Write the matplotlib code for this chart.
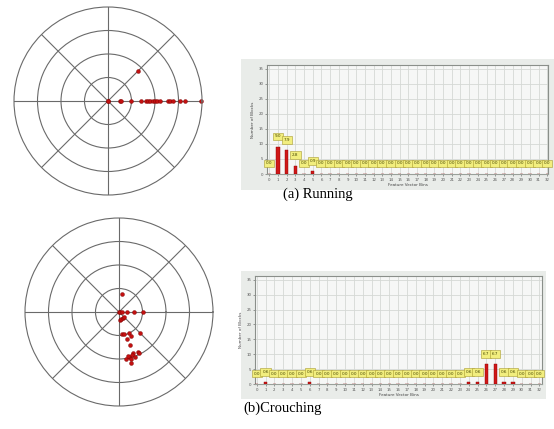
import numpy as np
import matplotlib.pyplot as plt
from matplotlib.patches import Rectangle

# polar plots (r in ring units, theta in degrees)
run_r = [0, 0, 0.52, 0.54, 0.99, 1.42, 1.63, 1.70, 1.80, 1.90, 2.01, 2.10, 2.20,
         2.55, 2.65, 2.77, 3.05, 3.26, 3.94, 1.82]
run_t = [0] * 19 + [45]

crouch_r = [0.79, 0, 0.06, 0.14, 0.35, 0.62, 1.02, 0.33, 0.30, 0.30, 0.30,
            0.93, 0.95, 0.97, 1.15, 1.22, 1.29, 1.49, 1.84, 1.88, 1.93, 1.93,
            1.96, 2.01, 1.92, 2.05, 2.21, 2.03]
crouch_t = [81, 0, 0, 0, 0, 0, 0, -80, -71, -55, -45,
            -81, -77, -65, -64, -73, -45, -72, -71, -65, -64, -73,
            -77.5, -82, -79, -76, -77, -71]

# histograms of feature vector bins
bins = np.arange(33)
run_counts = np.zeros(33)
run_counts[[1, 2, 3, 5]] = [9.0, 7.9, 2.8, 0.9]
crouch_counts = np.zeros(33)
crouch_counts[[1, 6, 24, 25, 26, 27, 28, 29]] = [0.6, 0.6, 0.6, 0.6, 6.7, 6.7, 0.6, 0.6]

captions = ["(a) Running", "(b)Crouching"]

W, H = 554, 429
fig = plt.figure(figsize=(W / 100, H / 100), dpi=100)


def px(l, t, w, h):
    return [l / W, 1 - (t + h) / H, w / W, h / H]


def polar(rect, r, t):
    ax = fig.add_axes(rect, projection='polar')
    ax.set_ylim(0, 4)
    ax.set_rticks([1, 2, 3])
    ax.set_yticklabels([])
    ax.set_thetagrids(range(0, 360, 45), labels=[])
    ax.grid(color='#6a6a6a', lw=0.8)
    ax.spines['polar'].set_color('#6a6a6a')
    ax.spines['polar'].set_linewidth(0.8)
    ax.plot(np.radians(t), r, 'o', ms=2.8, color='#c41010', mec='#7a0000', mew=0.3,
            ls='none', clip_on=False)
    return ax


def panel(bg, rect, counts, xl):
    fig.add_artist(Rectangle((bg[0] / W, 1 - (bg[1] + bg[3]) / H), bg[2] / W, bg[3] / H,
                             transform=fig.transFigure, fc='#e9ece9', ec='none', zorder=0))
    ax = fig.add_axes(rect)
    ax.set_facecolor('#f6f7f6')
    ax.set_xlim(*xl)
    ax.set_ylim(0, 36.3)
    ax.set_xticks(bins)
    ax.set_yticks(range(0, 36, 5))
    ax.grid(color='#d5d9d5', lw=0.6)
    ax.set_axisbelow(True)
    ax.tick_params(labelsize=2.8, length=1.2, width=0.4, pad=1.5, colors='#555555')
    for s in ['left', 'top', 'right']:
        ax.spines[s].set_color('#8a8f8a')
        ax.spines[s].set_linewidth(0.8)
    ax.spines['bottom'].set_color('#9aa09a')
    ax.spines['bottom'].set_linewidth(0.8)
    ax.set_ylabel('Number of Blocks', fontsize=3, color='#444444', labelpad=2)
    ax.set_xlabel('Feature Vector Bins', fontsize=3, color='#444444', labelpad=1)
    ax.bar(bins, counts, width=0.38, color='#d01818', ec='#8a0000', lw=0.3, zorder=3)
    for b, v in zip(bins, counts):
        ax.text(b, v + 3.5, f'{v:.1f}', fontsize=3.0, ha='center', va='center',
                color='#444400', zorder=4, clip_on=False,
                bbox=dict(boxstyle='square,pad=0.45', fc='#f2ee7e', ec='#a89a30', lw=0.4))
    return ax


polar(px(14, 7, 188, 188), run_r, run_t)
polar(px(25, 218, 188, 188), crouch_r, crouch_t)

panel((241, 59, 313, 131), px(267, 65, 281, 109), run_counts, (-0.27, 32.08))
panel((241, 271, 305, 128), px(255, 276, 287, 108), crouch_counts, (-0.19, 32.3))

fig.text(283 / W, 1 - 194 / H, captions[0], fontsize=10.5, family='Liberation Serif',
         ha='left', va='center')
fig.text(243 / W, 1 - 408 / H, captions[1], fontsize=10.5, family='Liberation Serif',
         ha='left', va='center')

fig.savefig('out.png', dpi=100)
